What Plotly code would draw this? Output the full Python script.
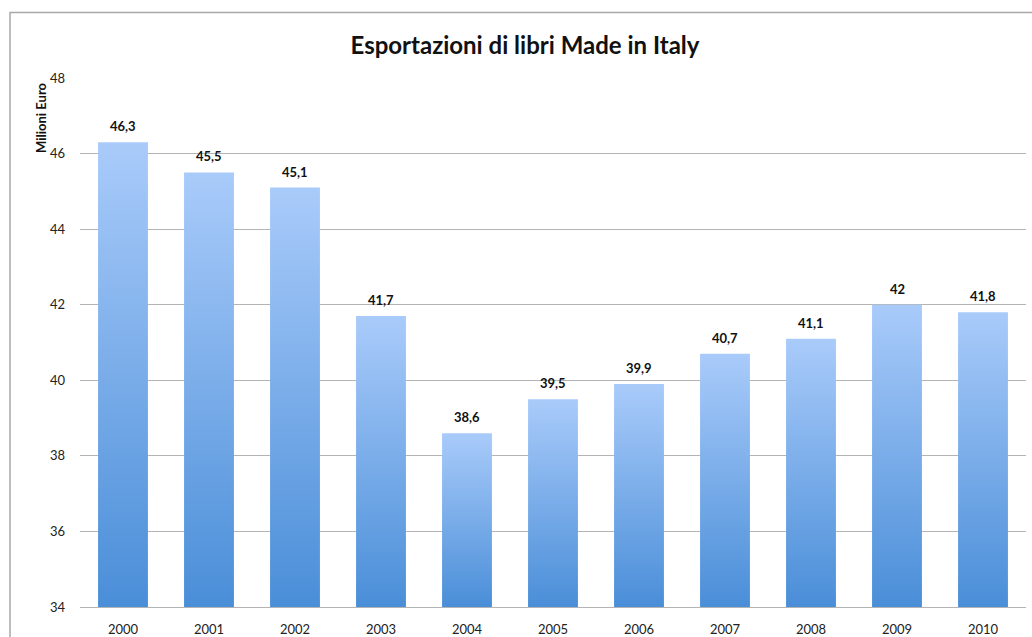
import plotly.graph_objects as go

# Export values of Italian-made books, million euro
years = ["2000", "2001", "2002", "2003", "2004", "2005", "2006", "2007", "2008", "2009", "2010"]
values = [46.3, 45.5, 45.1, 41.7, 38.6, 39.5, 39.9, 40.7, 41.1, 42.0, 41.8]
value_labels = ["46,3", "45,5", "45,1", "41,7", "38,6", "39,5", "39,9", "40,7", "41,1", "42", "41,8"]
y_ticks = [34, 36, 38, 40, 42, 44, 46, 48]

Y_MIN, Y_MAX = 34, 48
HALF_W = 0.29
FONT = "Lato, 'Open Sans', sans-serif"
GRID = "#b4b4b4"

fig = go.Figure()

# Each bar is a filled polygon with a vertical gradient (dark at base, light at top)
for i, v in enumerate(values):
    xs = [i - HALF_W, i + HALF_W, i + HALF_W, i - HALF_W, i - HALF_W]
    ys = [Y_MIN, Y_MIN, v, v, Y_MIN]
    fig.add_trace(go.Scatter(
        x=xs, y=ys, mode="lines", fill="toself",
        line=dict(width=0, color="rgba(0,0,0,0)"),
        fillgradient=dict(
            type="vertical", start=Y_MIN, stop=v,
            colorscale=[[0, "#4a8ed8"], [1, "#a9cbfa"]],
        ),
        hoverinfo="skip", showlegend=False,
    ))

# Value labels above the bars
label_notes = [
    dict(x=i, y=v, text=f"<b>{t}</b>", xref="x", yref="y",
         xanchor="center", yanchor="bottom", yshift=6, showarrow=False,
         font=dict(family=FONT, size=13, color="#111111"))
    for i, (v, t) in enumerate(zip(values, value_labels))
]

fig.update_layout(
    width=1032, height=637,
    margin=dict(l=80, r=6, t=78, b=30),
    paper_bgcolor="white", plot_bgcolor="white",
    title=dict(
        text="<b>Esportazioni di libri Made in Italy</b>",
        x=525 / 1032, xanchor="center", xref="container",
        y=1 - 46 / 637, yanchor="middle", yref="container",
        font=dict(family=FONT, size=24, color="#111111"),
    ),
    xaxis=dict(
        range=[-0.5, len(years) - 0.5], automargin=False,
        tickmode="array", tickvals=list(range(len(years))), ticktext=years,
        showgrid=False, zeroline=False, showline=True, linecolor=GRID, linewidth=1,
        ticks="", ticklabelstandoff=10,
        tickfont=dict(family=FONT, size=13, color="#222222"),
    ),
    yaxis=dict(
        range=[Y_MIN, Y_MAX], tickmode="array", tickvals=y_ticks, automargin=False,
        showgrid=True, gridcolor=GRID, gridwidth=1,
        zeroline=False, showline=False, ticks="", ticklabelstandoff=14,
        tickfont=dict(family=FONT, size=13, color="#222222"),
    ),
    annotations=label_notes + [dict(
        text="<b>Milioni Euro</b>", textangle=-90,
        xref="paper", yref="paper", x=(41 - 80) / 946, y=(607 - 118) / 529,
        xanchor="center", yanchor="middle", showarrow=False,
        font=dict(family=FONT, size=13, color="#111111"),
    )],
    shapes=[dict(
        type="rect", xref="paper", yref="paper",
        x0=(10 - 80) / 946, x1=1.2, y0=-0.2, y1=(607 - 12.5) / 529,
        line=dict(color="#a8a8a8", width=1.5), fillcolor="rgba(0,0,0,0)",
        layer="below",
    )],
)

fig.write_html("out.html")
